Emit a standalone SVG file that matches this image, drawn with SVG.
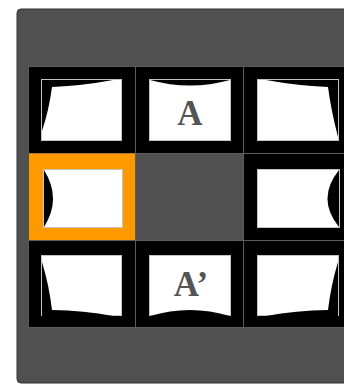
<svg xmlns="http://www.w3.org/2000/svg" width="344" height="385" viewBox="0 0 344 385">
<defs>
<style>
.cell{fill:#000;stroke:#5c5c5c;stroke-width:1}
.scr{fill:#fff;stroke:#c4c4c4;stroke-width:1}
.warp{fill:#000}
.lbl{font-family:"Liberation Serif","Times New Roman",serif;font-weight:bold;font-size:35px;fill:#555;text-anchor:middle}
</style>
</defs>
<rect x="17" y="9" width="340" height="374" rx="4" fill="#505050" stroke="#333" stroke-width="1"/>
<g id="cell-tl">
<rect class="cell" x="28.5" y="66.5" width="107" height="87"/>
<rect class="scr" x="41.5" y="79.5" width="80" height="61"/>
<path class="warp" d="M42,80 L113,80 Q84,85.5 52,87 Q49,110 42,131 Z"/>
</g>
<g id="cell-tc">
<rect class="cell" x="135.5" y="66.5" width="108" height="87"/>
<rect class="scr" x="149.5" y="79.5" width="81" height="61"/>
<path class="warp" d="M150,80 Q190,91 230,80 Z"/>
<text class="lbl" x="190" y="124.5">A</text>
</g>
<g id="cell-tr">
<rect class="cell" x="243.5" y="66.5" width="112" height="87"/>
<rect class="scr" x="257.5" y="79.5" width="81" height="61"/>
<path class="warp" d="M338,80 L266,80 Q296,85.5 328,87 Q331,110 338,137 Z"/>
</g>
<g id="cell-ml">
<rect x="29" y="153.5" width="106.5" height="87.5" fill="#ff9900"/>
<rect class="scr" x="43.5" y="169.5" width="79" height="58" stroke="#ffe0b0"/>
<path class="warp" d="M44,170 Q62,198.5 44,227 Z"/>
</g>
<g id="cell-mc">
<rect x="135.5" y="153.5" width="108" height="87" fill="#505050" stroke="#5c5c5c" stroke-width="1"/>
</g>
<g id="cell-mr">
<rect class="cell" x="243.5" y="153.5" width="112" height="87"/>
<rect class="scr" x="257.5" y="169.5" width="82" height="58"/>
<path class="warp" d="M339,170 Q316,198.5 339,227 Z"/>
</g>
<g id="cell-bl">
<rect class="cell" x="28.5" y="240.5" width="107" height="87"/>
<rect class="scr" x="41.5" y="255.5" width="80" height="60"/>
<path class="warp" d="M42,316 L113,316 Q84,310.5 52,310 Q49,285 42,262 Z"/>
</g>
<g id="cell-bc">
<rect class="cell" x="135.5" y="240.5" width="108" height="87"/>
<rect class="scr" x="149.5" y="255.5" width="81" height="60"/>
<path class="warp" d="M150,316 Q190,304 230,316 Z"/>
<text class="lbl" x="191" y="296">A’</text>
</g>
<g id="cell-br">
<rect class="cell" x="243.5" y="240.5" width="112" height="87"/>
<rect class="scr" x="257.5" y="255.5" width="81" height="60"/>
<path class="warp" d="M338,316 L266,316 Q296,310.5 328,310 Q331,285 338,262 Z"/>
</g>
<g id="connectors"></g>
</svg>
